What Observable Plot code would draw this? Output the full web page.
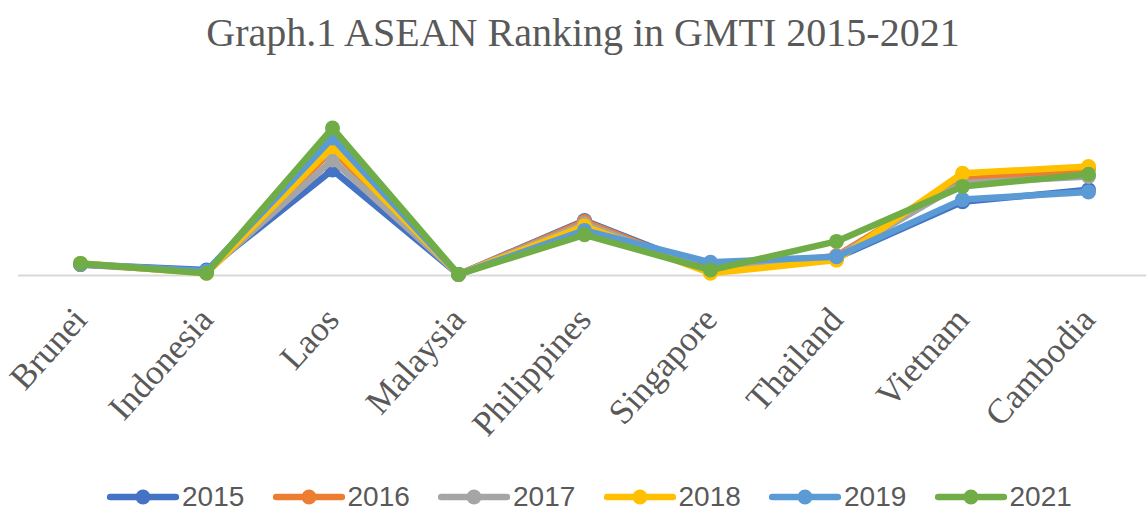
<!DOCTYPE html>
<html>
<head>
<meta charset="utf-8">
<script src="https://cdn.jsdelivr.net/npm/d3@7"></script>
<script src="https://cdn.jsdelivr.net/npm/@observablehq/plot@0.6"></script>
<style>
  html, body { margin: 0; padding: 0; background: #fff; }
  #wrap { position: relative; width: 1146px; height: 512px; overflow: hidden; }
  #title { position: absolute; left: 10px; top: 13px; width: 1146px; text-align: center;
           font-family: "Liberation Serif", "Times New Roman", serif; font-size: 40px; line-height: 1; color: #595959; }
  #chart { position: absolute; left: 0; top: 60px; }
  #legend { position: absolute; left: 107px; top: 482px; display: flex; }
  .item { width: 165.5px; display: flex; align-items: center; }
  .item span { font-family: "Liberation Sans Narrow", "Arial Narrow", "Liberation Sans", sans-serif; font-size: 28px; color: #595959; margin-left: 3px; line-height: 30px; }
</style>
</head>
<body>
<div id="wrap">
  <div id="title">Graph.1 ASEAN Ranking in GMTI 2015-2021</div>
  <div id="chart"></div>
  <div id="legend"></div>
</div>
<script>
const countries = ["Brunei","Indonesia","Laos","Malaysia","Philippines","Singapore","Thailand","Vietnam","Cambodia"];
const years = ["2015","2016","2017","2018","2019","2021"];
const colors = ["#4472C4","#ED7D31","#A5A5A5","#FFC000","#5B9BD5","#70AD47"];
const rank2015 = [10, 5, 96, 1, 50, 5, 16, 67, 78];
const rank2016 = [10, 3, 114, 1, 49, 4, 18, 87, 97];
const rank2017 = [11, 3, 105, 1, 47, 4, 17, 84, 90];
const rank2018 = [11, 2, 117, 1, 45, 2, 14, 93, 99];
const rank2019 = [10, 4, 125, 1, 41, 12, 17, 69, 76];
const rank2021 = [11, 2, 134, 1, 37, 5, 31, 81, 92];
const series = [rank2015, rank2016, rank2017, rank2018, rank2019, rank2021];

const rows = years.map((yr, i) => countries.map((c, j) => ({country: c, year: yr, rank: series[i][j]})));

const marks = [Plot.ruleY([0], {stroke: "#d9d9d9", strokeWidth: 2})];
rows.forEach((r, i) => {
  marks.push(Plot.line(r, {x: "country", y: "rank", stroke: colors[i], strokeWidth: 6.5, strokeLinejoin: "round", strokeLinecap: "round"}));
  marks.push(Plot.dot(r, {x: "country", y: "rank", r: 7.5, fill: colors[i], stroke: "none"}));
});
marks.push(Plot.axisX({tickSize: 0, tickPadding: 38, tickRotate: -48, dx: 0,
  fontSize: 35, fontFamily: "Liberation Serif", color: "#595959", label: null}));

const chart = Plot.plot({
  width: 1146,
  height: 410,
  marginLeft: 18,
  marginRight: 0,
  marginTop: 50,
  marginBottom: 195,
  style: {background: "transparent", fontFamily: "Liberation Serif", overflow: "visible"},
  x: {type: "point", domain: countries, range: [79, 1088], padding: 0},
  y: {domain: [0, 150], range: [215, 50], axis: null},
  marks
});
document.getElementById("chart").appendChild(chart);

const legend = document.getElementById("legend");
years.forEach((yr, i) => {
  const item = document.createElement("div");
  item.className = "item";
  const sw = d3.create("svg").attr("width", 72).attr("height", 20);
  sw.append("line").attr("x1", 3).attr("x2", 69).attr("y1", 10).attr("y2", 10)
    .attr("stroke", colors[i]).attr("stroke-width", 6.5).attr("stroke-linecap", "round");
  sw.append("circle").attr("cx", 36).attr("cy", 10).attr("r", 7.5).attr("fill", colors[i]);
  item.appendChild(sw.node());
  const t = document.createElement("span");
  t.textContent = yr;
  item.appendChild(t);
  legend.appendChild(item);
});
</script>
</body>
</html>
